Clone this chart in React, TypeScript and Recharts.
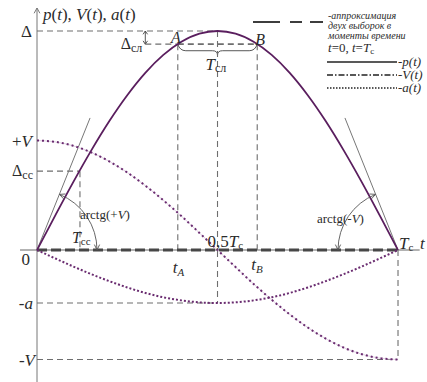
import React from 'react';
import {
  ComposedChart,
  Line,
  XAxis,
  YAxis,
  ReferenceLine,
  ReferenceDot,
  ReferenceArea,
  Legend,
} from 'recharts';

const WIDTH = 427;
const HEIGHT = 382;

// time in units of Tc
const TIME = [0, 0.05, 0.1, 0.15, 0.2, 0.25, 0.3, 0.35, 0.4, 0.45, 0.5, 0.55, 0.6, 0.65, 0.7, 0.75, 0.8, 0.85, 0.9, 0.95, 1];
// p(t), V(t), a(t) in units of Δ
const P_VALUES = [0, 0.156, 0.309, 0.454, 0.588, 0.707, 0.809, 0.891, 0.951, 0.988, 1, 0.988, 0.951, 0.891, 0.809, 0.707, 0.588, 0.454, 0.309, 0.156, 0];
const V_VALUES = [0.5, 0.494, 0.476, 0.446, 0.405, 0.354, 0.294, 0.227, 0.155, 0.078, 0, -0.078, -0.155, -0.227, -0.294, -0.354, -0.405, -0.446, -0.476, -0.494, -0.5];
const A_VALUES = [0, -0.038, -0.075, -0.11, -0.142, -0.171, -0.196, -0.216, -0.23, -0.239, -0.242, -0.239, -0.23, -0.216, -0.196, -0.171, -0.142, -0.11, -0.075, -0.038, 0];

// marked levels
const DELTA = 1;
const DELTA_SL = 0.94;
const DELTA_CC = 0.36;
const V_LEVEL = 0.5;
const A_LEVEL = 0.242;
// marked instants
const T_A = 0.39;
const T_B = 0.61;
const T_HALF = 0.5;
const T_CC = 0.119;
const T_C = 1;
const T_SL_MARK = 0.3;
// tangent lines at t=0 and t=Tc
const TANGENT_DT = 0.147;
const TANGENT_TOP = 0.603;

const X_DOMAIN: [number, number] = [-0.1025, 1.0803];
const Y_DOMAIN: [number, number] = [-0.6027, 1.1416];
const Y_AXIS_TOP = 1.105;
const X_AXIS_LEFT = -0.047;
const X_AXIS_RIGHT = 1.06;

const rows = TIME.map((t, i) => ({ t, p: P_VALUES[i], v: V_VALUES[i], a: A_VALUES[i] }));

const SERIF = '"Liberation Serif", "Times New Roman", serif';
const INK = '#2b2b2b';
const PURPLE = '#5a1e5e';
const PURPLE_DOT = '#6a2c70';
const GUIDE = '#6e6e6e';

type NoteOpts = { size?: number; anchor?: 'start' | 'middle' | 'end'; italic?: boolean };

function note(key: string, x: number, y: number, dx: number, dy: number, content: React.ReactNode, opts: NoteOpts = {}) {
  return (
    <ReferenceDot
      key={key}
      x={x}
      y={y}
      r={0}
      ifOverflow="visible"
      shape={(p: any) => (
        <text
          x={p.cx + dx}
          y={p.cy + dy}
          fontFamily={SERIF}
          fontSize={opts.size ?? 17}
          fontStyle={opts.italic ? 'italic' : 'normal'}
          textAnchor={opts.anchor ?? 'start'}
          fill={INK}
        >
          {content}
        </text>
      )}
    />
  );
}

function guide(key: string, a: [number, number], b: [number, number], width = 1.1) {
  return (
    <ReferenceLine
      key={key}
      segment={[{ x: a[0], y: a[1] }, { x: b[0], y: b[1] }]}
      stroke={GUIDE}
      strokeWidth={width}
      strokeDasharray="6 4"
      ifOverflow="visible"
    />
  );
}

// open arrow head with its tip at (x, y) pointing along angle (radians, screen coords)
function chevron(x: number, y: number, angle: number, len = 6, spread = 0.45) {
  const a1 = angle + Math.PI - spread;
  const a2 = angle + Math.PI + spread;
  return `M${x + len * Math.cos(a1)},${y + len * Math.sin(a1)} L${x},${y} L${x + len * Math.cos(a2)},${y + len * Math.sin(a2)}`;
}

// angle arc of radius r around (cx, cy) from the tangent down to the time axis
function angleArc(cx: number, cy: number, side: 1 | -1) {
  const r = 60;
  const th = (68 * Math.PI) / 180;
  const sx = cx + side * r * Math.cos(th);
  const sy = cy - r * Math.sin(th);
  const ex = cx + side * r;
  const startDir = side === 1 ? Math.atan2(-Math.cos(th), -Math.sin(th)) : Math.atan2(-Math.cos(th), Math.sin(th));
  return (
    <g fill="none" stroke="#555" strokeWidth={0.9}>
      <path d={`M${sx},${sy} A${r},${r} 0 0 ${side === 1 ? 1 : 0} ${ex},${cy}`} />
      <path d={chevron(ex, cy, Math.PI / 2)} />
      <path d={chevron(sx, sy, startDir)} />
    </g>
  );
}

function LegendBox() {
  return (
    <svg width={187} height={100} style={{ display: 'block', overflow: 'visible' }}>
      <path d="M13,22 H83" stroke="#3d3d3d" strokeWidth={2} strokeDasharray="27 10 12 8 13" />
      <g fontFamily={SERIF} fontStyle="italic" fontSize={10} fill={INK}>
        <text x={88} y={19}>-аппроксимация</text>
        <text x={88} y={29}>двух выборок в</text>
        <text x={88} y={39}>моменты времени</text>
        <text x={88} y={52} fontSize={13}>
          t<tspan fontStyle="normal">=0, </tspan>t<tspan fontStyle="normal">=</tspan>T
          <tspan fontSize={9} dy={2} fontStyle="normal">с</tspan>
        </text>
      </g>
      <path d="M87,62 H157" stroke="#222" strokeWidth={1.5} />
      <path d="M87,75 H157" stroke="#222" strokeWidth={1.4} strokeDasharray="6 2 1.5 2" />
      <path d="M87,88 H157" stroke="#222" strokeWidth={1.4} strokeDasharray="1.5 1.5" />
      <g fontFamily={SERIF} fontStyle="italic" fontSize={13} fill={INK}>
        <text x={158} y={66}>-p(t)</text>
        <text x={158} y={79}>-V(t)</text>
        <text x={158} y={92}>-a(t)</text>
      </g>
    </svg>
  );
}

export default function App() {
  return (
    <div style={{ position: 'absolute', left: 0, top: 0, background: '#fff' }}>
      <ComposedChart width={WIDTH} height={HEIGHT} data={rows} margin={{ top: 0, right: 0, bottom: 0, left: 0 }}>
        <XAxis type="number" dataKey="t" domain={X_DOMAIN} allowDataOverflow hide />
        <YAxis type="number" domain={Y_DOMAIN} allowDataOverflow hide />

        {/* axes */}
        <ReferenceLine segment={[{ x: 0, y: Y_DOMAIN[0] }, { x: 0, y: Y_AXIS_TOP }]} stroke="#777" strokeWidth={1} ifOverflow="visible" />
        <ReferenceLine segment={[{ x: X_AXIS_LEFT, y: 0 }, { x: X_AXIS_RIGHT, y: 0 }]} stroke="#666" strokeWidth={1} ifOverflow="visible" />
        <ReferenceDot
          x={0}
          y={Y_AXIS_TOP}
          r={0}
          ifOverflow="visible"
          shape={(p: any) => <path d={chevron(p.cx, p.cy, -Math.PI / 2, 6, 0.5)} fill="none" stroke="#777" strokeWidth={1} />}
        />

        {/* dashed guides */}
        {guide('delta', [0, DELTA], [T_HALF, DELTA])}
        {guide('sl-left', [T_SL_MARK, DELTA_SL], [T_A, DELTA_SL], 1.4)}
        {guide('sl-ab', [T_A, DELTA_SL], [T_B, DELTA_SL], 1.8)}
        {guide('ta', [T_A, DELTA_SL], [T_A, 0])}
        {guide('tb', [T_B, DELTA_SL], [T_B, 0])}
        {guide('half', [T_HALF, DELTA], [T_HALF, -A_LEVEL])}
        {guide('a-level', [0, -A_LEVEL], [T_HALF, -A_LEVEL])}
        {guide('v-level', [0, -V_LEVEL], [T_C, -V_LEVEL])}
        {guide('tc', [T_C, 0], [T_C, -V_LEVEL])}
        {guide('dcc', [0, DELTA_CC], [T_CC, DELTA_CC])}
        {guide('tcc', [T_CC, DELTA_CC], [T_CC, 0])}

        {/* tangents at the ends of the interval */}
        <ReferenceLine segment={[{ x: 0, y: 0 }, { x: TANGENT_DT, y: TANGENT_TOP }]} stroke="#777" strokeWidth={1} ifOverflow="visible" />
        <ReferenceLine segment={[{ x: T_C, y: 0 }, { x: T_C - TANGENT_DT, y: TANGENT_TOP }]} stroke="#777" strokeWidth={1} ifOverflow="visible" />

        {/* approximation through the samples at t=0 and t=Tc */}
        <ReferenceLine segment={[{ x: 0, y: 0 }, { x: T_C, y: 0 }]} stroke="#474747" strokeWidth={3} strokeDasharray="10 4" ifOverflow="visible" />

        <Line type="monotone" dataKey="v" stroke="#d9c2dc" strokeWidth={0.8} dot={false} activeDot={false} isAnimationActive={false} legendType="none" />
        <Line type="monotone" dataKey="v" stroke={PURPLE_DOT} strokeWidth={2} strokeDasharray="2 3" dot={false} activeDot={false} isAnimationActive={false} legendType="none" />
        <Line type="monotone" dataKey="a" stroke={PURPLE_DOT} strokeWidth={2} strokeDasharray="2 2" dot={false} activeDot={false} isAnimationActive={false} legendType="none" />
        <Line type="monotone" dataKey="p" stroke={PURPLE} strokeWidth={1.8} dot={false} activeDot={false} isAnimationActive={false} legendType="none" />

        {/* Δсл double arrow */}
        <ReferenceArea
          x1={T_SL_MARK - 0.01}
          x2={T_SL_MARK + 0.01}
          y1={DELTA_SL}
          y2={DELTA}
          ifOverflow="visible"
          shape={(p: any) => {
            const cx = p.x + p.width / 2;
            return (
              <g fill="none" stroke="#444" strokeWidth={0.9}>
                <path d={`M${cx},${p.y} V${p.y + p.height}`} />
                <path d={chevron(cx, p.y, -Math.PI / 2, 4, 0.6)} />
                <path d={chevron(cx, p.y + p.height, Math.PI / 2, 4, 0.6)} />
              </g>
            );
          }}
        />

        {/* Tсл brace under A–B */}
        <ReferenceArea
          x1={T_A}
          x2={T_B}
          y1={DELTA_SL - 0.05}
          y2={DELTA_SL}
          ifOverflow="visible"
          shape={(p: any) => {
            const { x, y, width: w, height: h } = p;
            const m = x + w / 2;
            const mid = y + h * 0.6;
            return (
              <path
                d={`M${x},${y} Q${x + 2},${mid} ${x + 8},${mid} H${m - 5} Q${m},${mid} ${m},${y + h} Q${m},${mid} ${m + 5},${mid} H${x + w - 8} Q${x + w - 2},${mid} ${x + w},${y}`}
                fill="none"
                stroke="#444"
                strokeWidth={0.9}
              />
            );
          }}
        />

        {/* angle arcs */}
        <ReferenceDot x={0} y={0} r={0} ifOverflow="visible" shape={(p: any) => angleArc(p.cx, p.cy, 1)} />
        <ReferenceDot x={T_C} y={0} r={0} ifOverflow="visible" shape={(p: any) => angleArc(p.cx, p.cy, -1)} />

        {/* labels */}
        {note('title', 0, DELTA, 6, -11, (
          <>
            <tspan fontStyle="italic">p</tspan>(<tspan fontStyle="italic">t</tspan>), <tspan fontStyle="italic">V</tspan>(<tspan fontStyle="italic">t</tspan>), <tspan fontStyle="italic">a</tspan>(<tspan fontStyle="italic">t</tspan>)
          </>
        ))}
        {note('delta', 0, DELTA, -5, 6, 'Δ', { anchor: 'end' })}
        {note('dsl', T_SL_MARK, DELTA_SL, -3, 5, (
          <>
            Δ<tspan fontSize={12} dy={3}>сл</tspan>
          </>
        ), { anchor: 'end', size: 16 })}
        {note('A', T_A, DELTA_SL, -2, -1, 'A', { anchor: 'middle', italic: true, size: 16 })}
        {note('B', T_B, DELTA_SL, 3, 1, 'B', { anchor: 'middle', italic: true, size: 16 })}
        {note('tsl', T_HALF, DELTA_SL, -12, 26, (
          <>
            <tspan fontStyle="italic">T</tspan>
            <tspan fontSize={12} dy={2}>сл</tspan>
          </>
        ))}
        {note('pv', 0, V_LEVEL, -5, 6, (
          <>
            +<tspan fontStyle="italic">V</tspan>
          </>
        ), { anchor: 'end' })}
        {note('dcc', 0, DELTA_CC, -4, 5, (
          <>
            Δ<tspan fontSize={12} dy={3}>сс</tspan>
          </>
        ), { anchor: 'end', size: 16 })}
        {note('zero', 0, 0, -7, 15, '0', { anchor: 'end' })}
        {note('na', 0, -A_LEVEL, -4, 6, (
          <>
            -<tspan fontStyle="italic">a</tspan>
          </>
        ), { anchor: 'end' })}
        {note('nv', 0, -V_LEVEL, -2, 6, (
          <>
            -<tspan fontStyle="italic">V</tspan>
          </>
        ), { anchor: 'end' })}
        {note('arc-l', 0, 0, 43, -31, (
          <>
            arctg(+<tspan fontStyle="italic">V</tspan>)
          </>
        ), { size: 13 })}
        {note('arc-r', T_C, 0, -81, -27, (
          <>
            arctg(-<tspan fontStyle="italic">V</tspan>)
          </>
        ), { size: 13 })}
        {note('tcc', T_CC, 0, -8, -7, (
          <>
            <tspan fontStyle="italic">T</tspan>
            <tspan fontSize={11} dy={2}>сс</tspan>
          </>
        ), { size: 16 })}
        {note('ta', T_A, 0, -5, 23, (
          <>
            <tspan fontStyle="italic">t</tspan>
            <tspan fontSize={11} dy={3} fontStyle="italic">A</tspan>
          </>
        ))}
        {note('tb', T_B, 0, -6, 20, (
          <>
            <tspan fontStyle="italic">t</tspan>
            <tspan fontSize={11} dy={3} fontStyle="italic">B</tspan>
          </>
        ))}
        {note('half', T_HALF, 0, -10, -3, (
          <>
            0,5<tspan fontStyle="italic">T</tspan>
            <tspan fontSize={11} dy={2}>с</tspan>
          </>
        ))}
        {note('tc', T_C, 0, 1, -1, (
          <>
            <tspan fontStyle="italic">T</tspan>
            <tspan fontSize={11} dy={2}>с</tspan>
          </>
        ))}
        {note('t', T_C, 0, 22, -1, 't', { italic: true })}

        <Legend
          layout="horizontal"
          verticalAlign="middle"
          align="center"
          content={() => <LegendBox />}
          wrapperStyle={{ left: 240, top: 0, width: 187, height: 100 }}
        />
      </ComposedChart>
    </div>
  );
}
